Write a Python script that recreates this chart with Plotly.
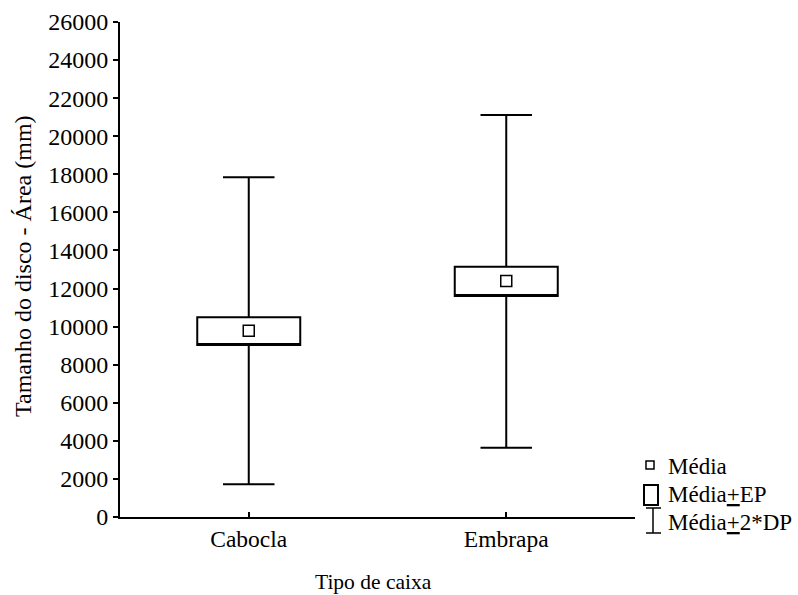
import plotly.graph_objects as go

categories = ["Cabocla", "Embrapa"]
means = [9785, 12395]
ep_low = [9034, 11607]
ep_high = [10489, 13146]
dp_low = [1717, 3640]
dp_high = [17842, 21113]
y_ticks = list(range(0, 26001, 2000))

FONT = "'Liberation Serif', 'Times New Roman', serif"

fig = go.Figure()
fig.add_trace(go.Box(
    x=categories, q1=ep_low, median=ep_low, q3=ep_high,
    lowerfence=dp_low, upperfence=dp_high,
    width=0.4, whiskerwidth=0.5,
    fillcolor="white", line=dict(color="black", width=2),
    boxpoints=False, hoverinfo="skip", showlegend=False,
))
fig.add_trace(go.Scatter(
    x=categories, y=means, mode="markers",
    marker=dict(symbol="square", size=11, color="white",
                line=dict(color="black", width=1.5)),
    showlegend=False,
))

# manual legend (paper coords)
def px2paper(px, py):
    return (px - 120) / 515, (517 - py) / 495

shapes = []
x0, y0 = px2paper(646, 461); x1, y1 = px2paper(654, 469)
shapes.append(dict(type="rect", xref="paper", yref="paper", x0=x0, y0=y0, x1=x1, y1=y1,
                   line=dict(color="black", width=1.5), fillcolor="white"))
x0, y0 = px2paper(644, 485); x1, y1 = px2paper(658, 505)
shapes.append(dict(type="rect", xref="paper", yref="paper", x0=x0, y0=y0, x1=x1, y1=y1,
                   line=dict(color="black", width=2), fillcolor="white"))
for (ax, ay, bx, by) in [(646, 508, 661, 508), (653, 508, 653, 533), (646, 533, 661, 533)]:
    a = px2paper(ax, ay); b = px2paper(bx, by)
    shapes.append(dict(type="line", xref="paper", yref="paper", x0=a[0], y0=a[1], x1=b[0], y1=b[1],
                       line=dict(color="black", width=1.5)))

legend_labels = ["Média", "Média<u>+</u>EP", "Média<u>+</u>2*DP"]
legend_y = [466, 494, 522]
annotations = []
for lab, ly in zip(legend_labels, legend_y):
    ax, ay = px2paper(666, ly)
    annotations.append(dict(text=lab, xref="paper", yref="paper", x=ax, y=ay,
                            xanchor="left", yanchor="middle", showarrow=False,
                            font=dict(family=FONT, size=23, color="black")))
# axis titles as annotations
tx, ty = px2paper(373, 582)
annotations.append(dict(text="Tipo de caixa", xref="paper", yref="paper", x=tx, y=ty,
                        xanchor="center", yanchor="middle", showarrow=False,
                        font=dict(family=FONT, size=21.5, color="black")))
tx, ty = px2paper(23, 266)
annotations.append(dict(text="Tamanho do disco - Área (mm)", xref="paper", yref="paper", x=tx, y=ty,
                        xanchor="center", yanchor="middle", showarrow=False, textangle=-90,
                        font=dict(family=FONT, size=24, color="black")))

fig.update_layout(
    width=798, height=595,
    margin=dict(l=120, r=163, t=22, b=78, autoexpand=False),
    paper_bgcolor="white", plot_bgcolor="white",
    font=dict(family=FONT, size=23, color="black"),
    shapes=shapes, annotations=annotations,
    showlegend=False,
)
fig.update_xaxes(
    range=[-0.5, 1.5], showline=True, linecolor="black", linewidth=2,
    ticks="inside", ticklen=5, tickwidth=1.5, tickcolor="black",
    showgrid=False, zeroline=False, automargin=False,
    tickfont=dict(family=FONT, size=23.5),
)
fig.update_yaxes(
    range=[0, 26000], tickvals=y_ticks, ticktext=[str(v) for v in y_ticks],
    showline=True, linecolor="black", linewidth=2,
    ticks="outside", ticklen=5, tickwidth=1.5, tickcolor="black",
    showgrid=False, zeroline=False, automargin=False,
    tickfont=dict(family=FONT, size=24),
)
fig.write_html("out.html")
